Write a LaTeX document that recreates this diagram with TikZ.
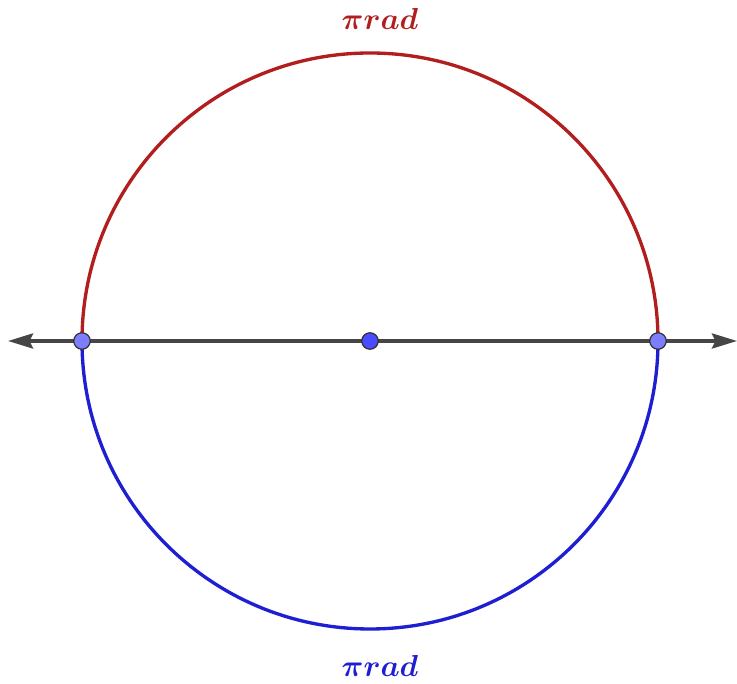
\documentclass[tikz,border=0pt]{standalone}
\usepackage{amsmath,amssymb}
\usepackage{xcolor}
\usetikzlibrary{arrows.meta}
\definecolor{arcred}{RGB}{178,30,30}
\definecolor{arcblue}{RGB}{30,30,210}
\definecolor{axisgray}{RGB}{70,70,70}
\definecolor{ptlight}{RGB}{125,125,255}
\definecolor{ptdark}{RGB}{75,75,255}
\tikzset{
  pt/.style={circle,draw=black!80,line width=0.7pt,fill=ptlight,inner sep=0pt,minimum size=3.3mm},
  lbl/.style={font=\fontsize{19}{22}\selectfont}
}

\begin{document}
\begin{tikzpicture}[>=Stealth]
\useasboundingbox(0,0)rectangle(14.74,13.68);
\coordinate(O)at(7.40,6.86);
\coordinate(L)at(1.64,6.86);
\coordinate(R)at(13.16,6.86);
\coordinate(tipL)at(0.16,6.86);
\coordinate(tipR)at(14.74,6.86);
\draw[line width=1.9pt,arcred](L)arc[start angle=180,end angle=0,radius=5.76];
\draw[line width=1.9pt,arcblue](L)arc[start angle=180,end angle=360,radius=5.76];
\draw[line width=2pt,axisgray,{Stealth[length=5mm,width=3mm,inset=0.7mm]}-{Stealth[length=5mm,width=3mm,inset=0.7mm]}](tipL)--(tipR);
\node[pt](A)at(L){};
\node[pt](B)at(R){};
\node[pt,fill=ptdark](C)at(O){};
\node[lbl,text=arcred](top)at(7.6,13.3){$\boldsymbol{\pi rad}$};
\node[lbl,text=arcblue](bot)at(7.6,0.36){$\boldsymbol{\pi rad}$};
\end{tikzpicture}
\end{document}
